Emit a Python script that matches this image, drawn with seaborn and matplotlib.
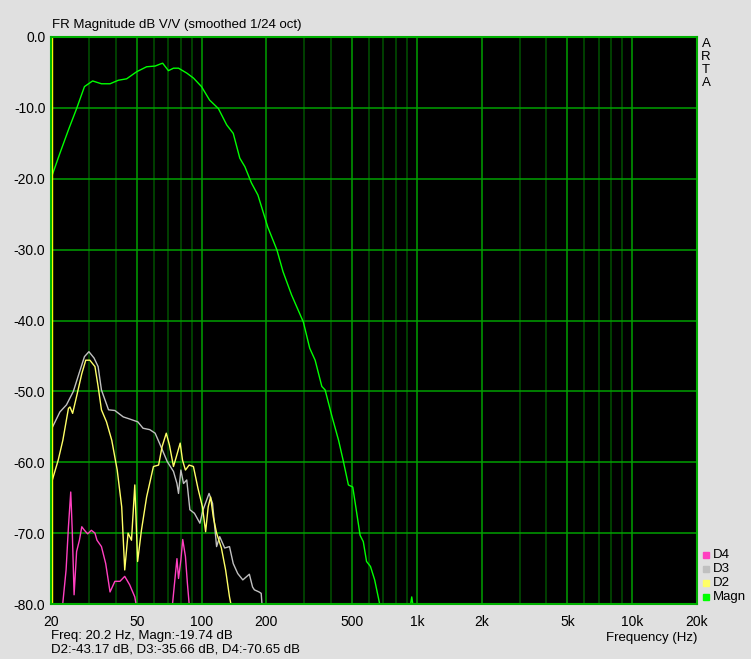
import numpy as np
import pandas as pd
import matplotlib
matplotlib.use("Agg")
import matplotlib.pyplot as plt
import seaborn as sns

# --- data ---
magn_freq = [20.2, 22.0, 24.1, 26.3, 28.6, 31.2, 34.3, 37.6, 41.1, 44.9, 50.0, 55.6, 60.9,
             64.5, 66.0, 70.2, 74.1, 78.2, 85.5, 91.8, 100, 109, 119.8, 130.9, 140.4, 150.6,
             159, 170.6, 182.8, 203, 224, 239, 262, 297, 318, 337, 362, 375, 404, 433, 456,
             481, 504, 526, 545, 564, 584, 609, 637, 671, 680]
magn_db = [-19.6, -16.4, -13.1, -10.1, -7.0, -6.2, -6.6, -6.6, -6.1, -5.9, -4.9, -4.2, -4.1,
           -3.8, -3.7, -4.75, -4.4, -4.4, -5.1, -5.8, -7.0, -8.9, -10.1, -12.4, -13.6, -17.1,
           -18.3, -20.6, -22.3, -26.8, -30.05, -33.1, -36.4, -40.2, -43.9, -45.6, -49.3, -49.8,
           -53.6, -56.9, -59.9, -63.2, -63.5, -67.2, -70.3, -71.2, -74.0, -74.7, -76.6, -79.9, -81]
blip_freq = [925, 947, 968]
blip_db = [-81, -79.0, -81]

d3_freq = [20.2, 22.0, 23.6, 25.4, 27.3, 28.6, 30.0, 31.7, 33.1, 34.3, 37.0, 39.6, 43.3, 46.4,
           50.6, 53.5, 57.5, 60.9, 64.4, 69.3, 74.1, 76.9, 78.2, 80.2, 82.5, 85.4, 88.3, 92.7,
           98.3, 101.7, 108.4, 112.5, 117.5, 121.5, 128.1, 134.9, 140.4, 147.3, 155.5, 166.8,
           172.6, 176, 185, 189.3, 192]
d3_db = [-55.2, -52.9, -51.9, -50.0, -47.0, -45.1, -44.4, -45.3, -46.5, -49.8, -52.6, -52.7,
         -53.6, -53.9, -54.3, -55.2, -55.4, -55.9, -57.6, -59.9, -61.3, -63.0, -64.4, -61.1,
         -63.0, -62.5, -66.7, -67.2, -68.6, -66.7, -64.4, -65.8, -71.9, -70.5, -72.1, -71.9,
         -74.3, -75.7, -76.6, -75.8, -77.6, -78.0, -78.3, -78.5, -81]

d2_freq = [20.2, 21.6, 22.7, 24.1, 24.5, 25.2, 26.3, 27.8, 29.0, 30.3, 32.0, 33.1, 34.3, 36.2,
           38.3, 40.6, 42.6, 44.0, 45.6, 47.3, 49.0, 50.5, 52.6, 55.6, 59.8, 63.2, 65.6, 68.6,
           71.0, 74.1, 76.1, 79.6, 81.6, 84.2, 87.6, 91.7, 96.3, 101, 104.5, 107.4, 110.2,
           113.4, 117.5, 123.7, 129.4, 134.9, 139]
d2_db = [-62.7, -59.7, -56.9, -52.4, -52.2, -53.1, -50.7, -47.5, -45.6, -45.6, -46.5, -49.3,
         -52.6, -54.3, -56.9, -61.1, -66.3, -75.2, -70.0, -71.0, -63.2, -74.0, -69.6, -64.9,
         -60.6, -60.4, -57.8, -55.9, -57.6, -60.6, -59.4, -57.3, -59.7, -61.1, -60.4, -60.6,
         -63.7, -66.3, -69.8, -66.3, -64.9, -67.7, -70.0, -72.1, -75.2, -79.0, -81]

d4a_freq = [22.5, 23.5, 24.1, 24.7, 25.1, 25.6, 26.3, 27.1, 27.8, 28.6, 29.6, 30.8, 32.0, 32.7,
            34.3, 35.9, 37.6, 39.6, 41.8, 44.0, 46.4, 49.0, 50.3]
d4a_db = [-81, -75.2, -69.1, -64.2, -69.6, -78.7, -72.6, -71.0, -69.1, -69.6, -70.1, -69.6,
          -70.0, -71.0, -71.9, -74.3, -78.3, -76.8, -76.8, -76.1, -77.3, -79.0, -81]
d4b_freq = [72.8, 75.7, 76.9, 78.2, 80.2, 81.8, 84.2, 86.0, 88.2]
d4b_db = [-81, -75.7, -73.6, -76.4, -73.8, -70.9, -73.3, -77.1, -81]

x_ticks = [20, 50, 100, 200, 500, 1000, 2000, 5000, 10000, 20000]
x_labels = ["20", "50", "100", "200", "500", "1k", "2k", "5k", "10k", "20k"]
x_minor = [30, 40, 60, 70, 80, 90, 300, 400, 600, 700, 800, 900,
           3000, 4000, 6000, 7000, 8000, 9000]
y_ticks = [0, -10, -20, -30, -40, -50, -60, -70, -80]

colors = {"Magn": "#00ff00", "D2": "#ffff66", "D3": "#c0c0c0", "D4": "#ff40c0"}

parts = [("Magn", 0, magn_freq, magn_db), ("Magn", 1, blip_freq, blip_db),
         ("D3", 2, d3_freq, d3_db), ("D2", 3, d2_freq, d2_db),
         ("D4", 4, d4a_freq, d4a_db), ("D4", 5, d4b_freq, d4b_db)]
df = pd.concat([pd.DataFrame({"series": s, "seg": k, "freq": f, "db": d})
                for s, k, f, d in parts], ignore_index=True)

bg = "#e0e0e0"
fig = plt.figure(figsize=(7.51, 6.59), dpi=100, facecolor=bg)
plt.rcParams["font.family"] = ["Liberation Sans", "DejaVu Sans"]
W, H = 751, 659
ax = fig.add_axes([51 / W, (H - 604) / H, 646 / W, 567 / H])
ax.set_facecolor("black")

ax.set_xscale("log")
ax.set_xlim(20, 20000)
ax.set_ylim(-80, 0)
ax.set_xticks(x_ticks)
ax.set_xticklabels(x_labels)
ax.set_xticks(x_minor, minor=True)
ax.set_yticks(y_ticks)
ax.set_yticklabels([f"{v:.1f}" for v in y_ticks])
ax.tick_params(which="both", length=0, labelsize=10, colors="black")
ax.tick_params(axis="x", pad=8)
ax.tick_params(axis="y", pad=4)

ax.grid(which="major", axis="x", color="#00a000", lw=1.1)
ax.grid(which="minor", axis="x", color="#005200", lw=1.1)
ax.grid(which="major", axis="y", color="#00a000", lw=1.1)
ax.set_axisbelow(True)
for sp in ax.spines.values():
    sp.set_color("#00b000")
    sp.set_linewidth(1.5)

sns.lineplot(data=df, x="freq", y="db", hue="series", units="seg", estimator=None,
             sort=False, palette=colors, hue_order=["D4", "D3", "D2", "Magn"],
             lw=1.0, legend=False, ax=ax)
ax.axvline(20.15, color="#ffff00", lw=1)
ax.set_xlabel("")
ax.set_ylabel("")

fs = 9.5
fig.text(52 / W, 1 - 25 / H, "FR Magnitude dB V/V (smoothed 1/24 oct)", fontsize=fs,
         va="center", ha="left")
for i, ch in enumerate("ARTA"):
    fig.text(706 / W, 1 - (44 + 13 * i) / H, ch, fontsize=fs, ha="center", va="center")
fig.text(697 / W, 1 - 638 / H, "Frequency (Hz)", fontsize=fs, ha="right", va="center")
fig.text(51 / W, 1 - 636 / H, "Freq: 20.2 Hz, Magn:-19.74 dB", fontsize=fs, va="center")
fig.text(51 / W, 1 - 650 / H, "D2:-43.17 dB, D3:-35.66 dB, D4:-70.65 dB", fontsize=fs,
         va="center")

# legend: coloured squares with labels, bottom right
for i, name in enumerate(["D4", "D3", "D2", "Magn"]):
    y = 1 - (555 + 14 * i) / H
    fig.patches.append(plt.Rectangle((703 / W, y - 3 / H), 6 / W, 6 / H,
                                     transform=fig.transFigure, color=colors[name]))
    fig.text(713 / W, y, name, fontsize=fs, va="center", ha="left")

fig.savefig("out.png", dpi=100, facecolor=bg)
